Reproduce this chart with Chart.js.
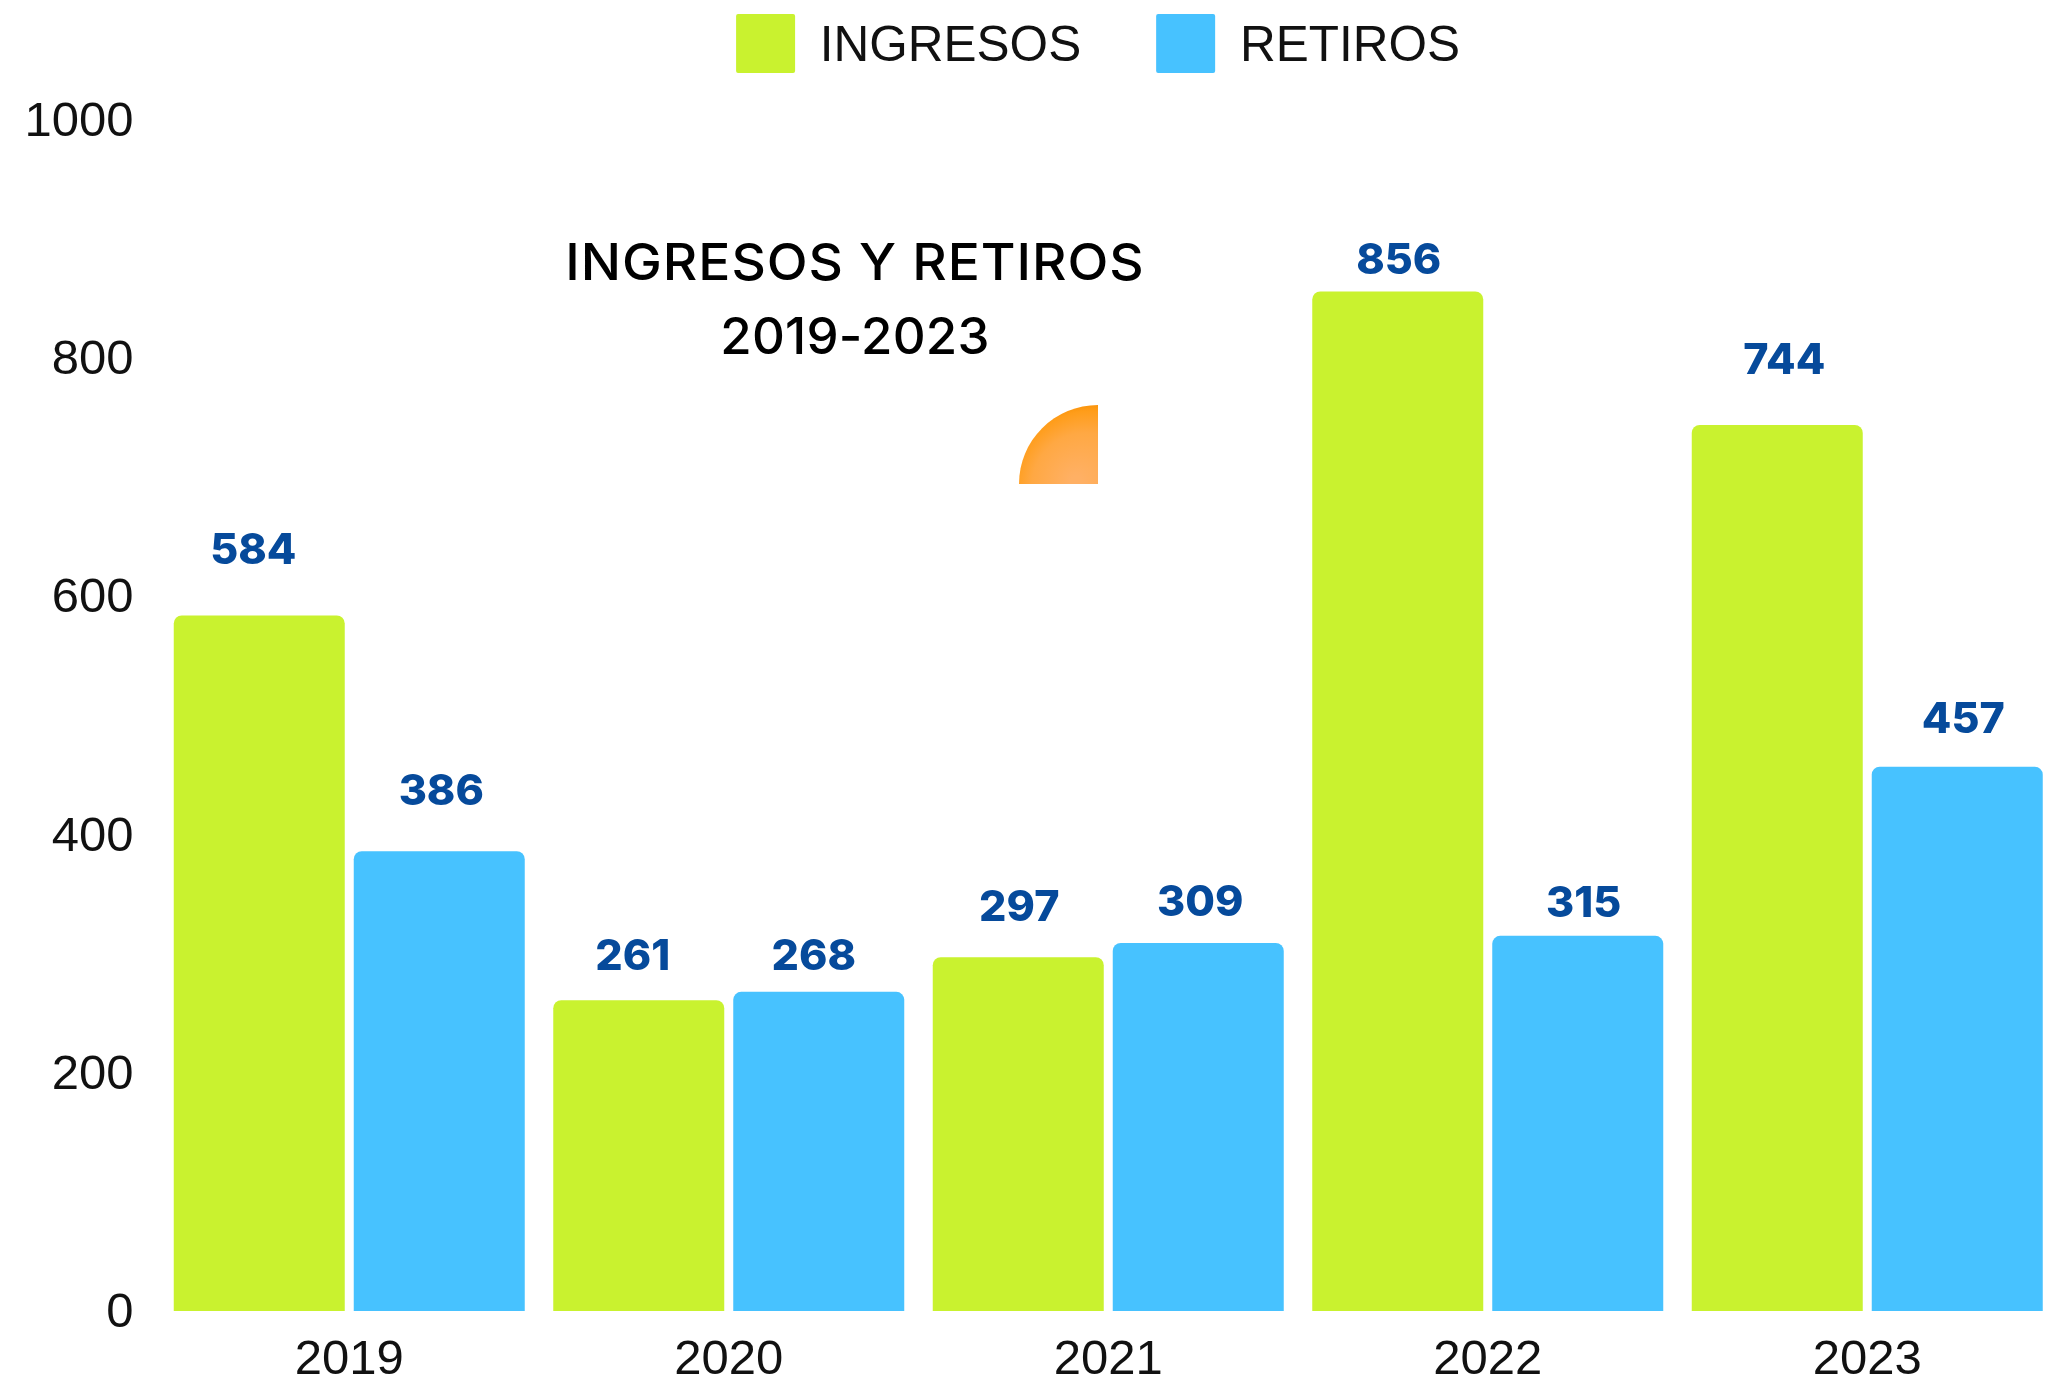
<!DOCTYPE html>
<html><head><meta charset="utf-8">
<style>html,body{margin:0;padding:0;background:#fff;overflow:hidden;width:2052px;height:1380px}
canvas{position:absolute;left:0;top:0}</style>
<script src="https://cdn.jsdelivr.net/npm/chart.js@4/dist/chart.umd.min.js"></script>
</head><body><canvas id="c" width="2057" height="1380"></canvas>
<script>
const categories = ['2019','2020','2021','2022','2023'];
const ingresos = [584,261,297,856,744];
const retiros = [386,268,309,315,457];
const yTicks = [0,200,400,600,800,1000];
const titleLines = ['INGRESOS Y RETIROS','2019-2023'];

// hand placement of the value labels relative to each bar's top centre
const labelDx = [[-6,-6,1,1,7],[2,-5,2,6,6]];
const labelDy = [[-64,-43,-49,-30,-64],[-59,-35,-40,-32,-47]];

// moves the text of one chart element down a little while it draws
function nudgeText(el,method,dy){
  const orig=el[method];
  el[method]=function(){
    const c=this.ctx, ft=c.fillText;
    c.fillText=function(t,x,y,m){return ft.call(c,t,x,y+dy,m);};
    orig.apply(this,arguments);
    delete c.fillText;
  };
}

const decorations = {
  id:'decorations',
  beforeLayout(chart){
    const lg=chart.legend;
    if(lg && !lg._patched){
      const f=lg.fit;
      lg.fit=function(){f.call(this);this.height=120;};
      nudgeText(lg,'draw',4);
      lg._patched=true;
    }
  },
  afterLayout(chart){
    const lg=chart.legend;
    lg.top=-61;lg.left+=69.5;lg.right+=69.5;
    const ys=chart.scales.y;
    if(!ys._patched){nudgeText(ys,'drawLabels',2.5);ys._patched=true;}
  },
  afterDatasetsDraw(chart){
    const {ctx,scales:{y}} = chart;
    ctx.save();
    ctx.fillStyle='#064A9B';
    ctx.font='800 43px Inter';
    ctx.textAlign='center';ctx.textBaseline='middle';
    chart.data.datasets.forEach((ds,di)=>{
      chart.getDatasetMeta(di).data.forEach((bar,i)=>{
        ctx.fillText(String(ds.data[i]),bar.x+labelDx[di][i],y.getPixelForValue(ds.data[i])+labelDy[di][i]);
      });
    });
    ctx.fillStyle='#000';
    ctx.font='500 51px Inter';
    ctx.save();
    ctx.translate(855,265);ctx.scale(1.045,1);
    ctx.letterSpacing='0.9px';
    ctx.fillText(titleLines[0],0,0);
    ctx.restore();
    ctx.letterSpacing='0.2px';
    ctx.fillText(titleLines[1],855,339);
    ctx.letterSpacing='0px';
    const x=1098,b=484,r=79;
    const g=ctx.createRadialGradient(x-22,b-2,6,x-6,b+6,r+7);
    g.addColorStop(0,'#FFB064');g.addColorStop(0.6,'#FFA843');g.addColorStop(0.9,'#FF9D1A');g.addColorStop(1,'#FA930A');
    ctx.fillStyle=g;
    ctx.beginPath();ctx.moveTo(x,b);ctx.lineTo(x-r,b);ctx.arc(x,b,r,Math.PI,1.5*Math.PI);ctx.closePath();ctx.fill();
    ctx.restore();
  }
};

new Chart(document.getElementById('c'),{
  type:'bar',
  data:{labels:categories,datasets:[
    {label:'INGRESOS',data:ingresos,backgroundColor:'#C9F22F',borderRadius:{topLeft:8,topRight:8}},
    {label:'RETIROS',data:retiros,backgroundColor:'#47C2FF',borderRadius:{topLeft:8,topRight:8}}
  ]},
  options:{
    responsive:false,animation:false,
    categoryPercentage:0.9486,barPercentage:0.95,
    plugins:{
      tooltip:{enabled:false},
      legend:{position:'top',align:'center',
        labels:{boxWidth:59,boxHeight:59,padding:75,color:'#111',font:{family:'"Liberation Sans"',size:49.5},
          useBorderRadius:true,borderRadius:2,
          generateLabels(chart){return chart.data.datasets.map((d,i)=>({text:d.label,fillStyle:d.backgroundColor,strokeStyle:d.backgroundColor,lineWidth:0,datasetIndex:i,borderRadius:2,fontColor:'#111'}));}}}
    },
    scales:{
      x:{grid:{display:false,drawTicks:false},border:{display:false},
        ticks:{color:'#111',font:{family:'"Liberation Sans"',size:49},padding:20,maxRotation:0,autoSkip:false},
        afterFit(s){s.height=69;}},
      y:{min:0,max:1000,grid:{display:false,drawTicks:false},border:{display:false},
        afterBuildTicks(s){s.ticks=yTicks.map(v=>({value:v}));},
        ticks:{color:'#111',font:{family:'"Liberation Sans"',size:49},padding:26,callback:v=>String(v)},
        afterFit(s){s.width=159.5;}}
    }
  },
  plugins:[decorations]
});
</script></body></html>
